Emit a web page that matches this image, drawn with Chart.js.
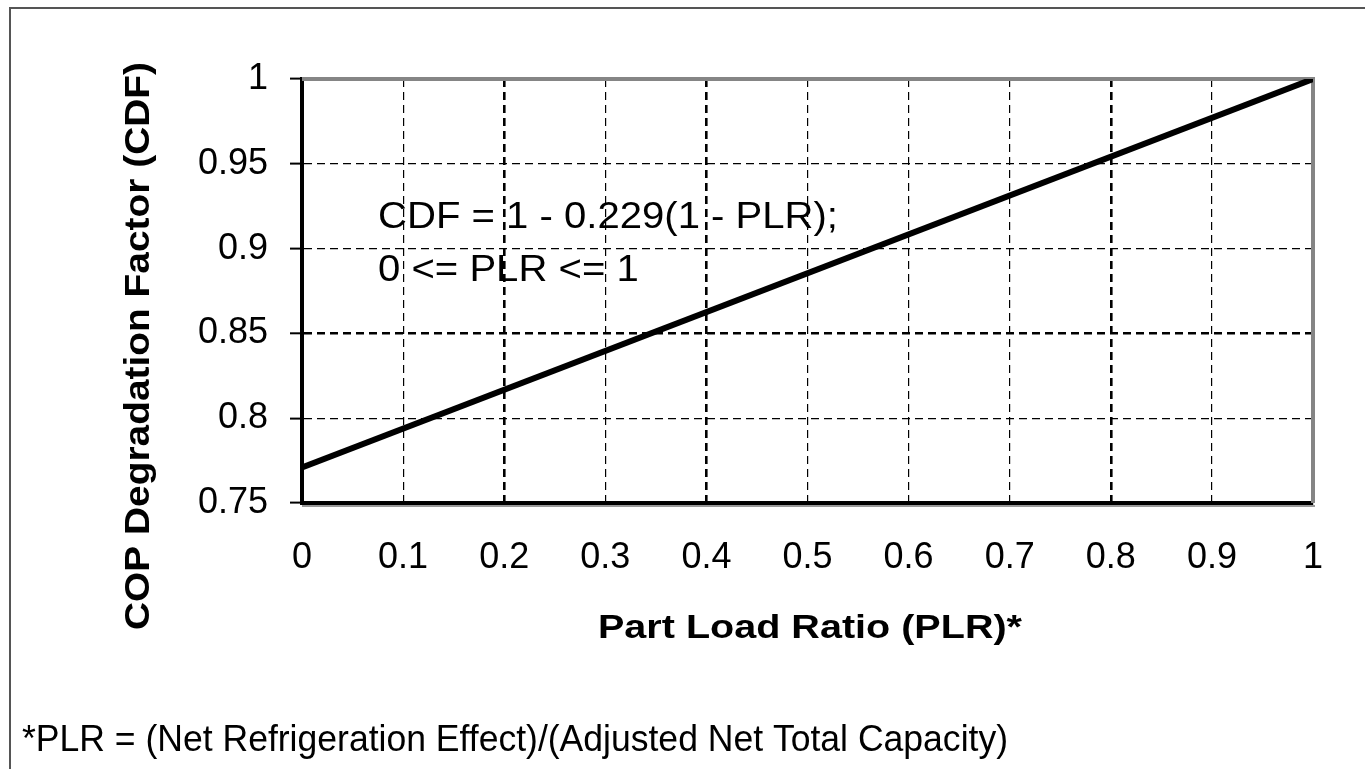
<!DOCTYPE html>
<html>
<head>
<meta charset="utf-8">
<title>COP Degradation Factor</title>
<script src="https://cdn.jsdelivr.net/npm/chart.js@4.4.1/dist/chart.umd.min.js"></script>
<style>
  body { margin: 0; background: #fff; }
  canvas { display: block; }
</style>
</head>
<body>
<canvas id="cdfChart" width="1365" height="769"></canvas>
<script>
// values
const plrValues = [0, 1];
const cdfValues = [0.771, 1.0];
const xTicks = [0, 0.1, 0.2, 0.3, 0.4, 0.5, 0.6, 0.7, 0.8, 0.9, 1];
const xTickLabels = ['0', '0.1', '0.2', '0.3', '0.4', '0.5', '0.6', '0.7', '0.8', '0.9', '1'];
const yTicks = [0.75, 0.8, 0.85, 0.9, 0.95, 1];
const yTickLabels = ['0.75', '0.8', '0.85', '0.9', '0.95', '1'];

const FONT = '"Liberation Sans", Arial, sans-serif';

// draw text squeezed/stretched horizontally to a given width
function fitText(ctx, text, x, y, width, font, rotate) {
    ctx.save();
    ctx.font = font;
    const w = ctx.measureText(text).width;
    const s = width / w;
    ctx.translate(x, y);
    if (rotate) ctx.rotate(-Math.PI / 2);
    ctx.scale(s, 1);
    ctx.textBaseline = 'alphabetic';
    ctx.textAlign = 'left';
    ctx.fillStyle = '#000';
    ctx.fillText(text, rotate ? -w / 2 : 0, 0);
    ctx.restore();
    return s;
}

const decorations = {
    id: 'decorations',
    beforeDraw(chart) {
        const ctx = chart.ctx;
        ctx.save();
        ctx.fillStyle = '#fff';
        ctx.fillRect(0, 0, chart.width, chart.height);
        // outer frame (top and left visible)
        ctx.strokeStyle = '#555';
        ctx.lineWidth = 2;
        ctx.beginPath();
        ctx.moveTo(chart.width, 8);
        ctx.lineTo(10, 8);
        ctx.lineTo(10, chart.height);
        ctx.stroke();
        ctx.restore();
    },
    beforeDatasetsDraw(chart) {
        const ctx = chart.ctx;
        const a = chart.chartArea;
        ctx.save();
        // grey plot frame on top and right
        ctx.strokeStyle = '#858585';
        ctx.lineWidth = 4;
        ctx.beginPath();
        ctx.moveTo(a.left, a.top);
        ctx.lineTo(a.right, a.top);
        ctx.lineTo(a.right, a.bottom);
        ctx.stroke();
        // soft shadow under the x axis
        ctx.strokeStyle = '#999';
        ctx.lineWidth = 2;
        ctx.beginPath();
        ctx.moveTo(a.left, a.bottom + 3);
        ctx.lineTo(a.right + 2, a.bottom + 3);
        ctx.stroke();
        ctx.restore();

        // equation text
        const s = fitText(ctx, 'CDF = 1 - 0.229(1 - PLR);', 378, 228, 460, '36px ' + FONT);
        ctx.save();
        ctx.font = '36px ' + FONT;
        const w2 = ctx.measureText('0 <= PLR <= 1').width;
        ctx.restore();
        fitText(ctx, '0 <= PLR <= 1', 378, 281, w2 * s, '36px ' + FONT);
    },
    afterDraw(chart) {
        const ctx = chart.ctx;
        fitText(ctx, 'Part Load Ratio (PLR)*', 598, 638, 424, 'bold 33px ' + FONT);
        fitText(ctx, 'COP Degradation Factor (CDF)', 149, 346, 568, 'bold 35px ' + FONT, true);
        fitText(ctx, '*PLR = (Net Refrigeration Effect)/(Adjusted Net Total Capacity)', 22, 751, 986, '37px ' + FONT);
    }
};

const heavyX = [2, 4, 8];
const heavyY = [2];

const ctx = document.getElementById('cdfChart').getContext('2d');
const cdfChart = new Chart(ctx, {
    type: 'scatter',
    data: {
        datasets: [{
            data: plrValues.map((x, i) => ({ x: x, y: cdfValues[i] })),
            showLine: true,
            borderColor: '#000',
            borderWidth: 6,
            pointRadius: 0,
            fill: false
        }]
    },
    options: {
        responsive: false,
        animation: false,
        layout: { padding: { top: 79, right: 52, left: 0, bottom: 0 } },
        plugins: {
            legend: { display: false },
            tooltip: { enabled: false }
        },
        scales: {
            x: {
                type: 'linear',
                min: 0,
                max: 1,
                afterBuildTicks: scale => { scale.ticks = xTicks.map(v => ({ value: v })); },
                afterFit: scale => { scale.height = 266; },
                ticks: {
                    callback: (v, i) => xTickLabels[i],
                    color: '#000',
                    font: { family: FONT, size: 36 },
                    padding: 33,
                    maxRotation: 0,
                    autoSkip: false
                },
                grid: {
                    color: '#000',
                    lineWidth: c => heavyX.includes(c.index) ? 2.6 : 1.2,
                    drawTicks: false
                },
                border: { color: '#000', width: 4, dash: [8, 5] }
            },
            y: {
                type: 'linear',
                min: 0.75,
                max: 1,
                afterBuildTicks: scale => { scale.ticks = yTicks.map(v => ({ value: v })); },
                afterFit: scale => { scale.width = 302; },
                ticks: {
                    callback: (v, i) => yTickLabels[i],
                    color: '#000',
                    font: { family: FONT, size: 36 },
                    padding: 22,
                    autoSkip: false
                },
                grid: {
                    color: '#000',
                    lineWidth: c => heavyY.includes(c.index) ? 2.6 : 1.2,
                    drawTicks: true,
                    tickLength: 12,
                    tickColor: '#000',
                    tickWidth: 2
                },
                border: { color: '#000', width: 4, dash: [8, 5] }
            }
        }
    },
    plugins: [decorations]
});
</script>
</body>
</html>
